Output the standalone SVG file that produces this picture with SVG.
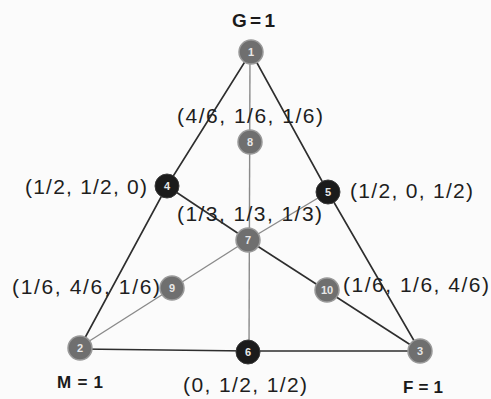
<svg xmlns="http://www.w3.org/2000/svg" width="491" height="399" viewBox="0 0 491 399">
<style>
.lbl{font-family:"Liberation Sans",Arial,sans-serif;font-size:21px;fill:#1e1e1e}
.vtx{font-family:"Liberation Sans",Arial,sans-serif;font-weight:bold;fill:#1a1a1a}
.num{font-family:"Liberation Sans",Arial,sans-serif;font-size:11px;fill:#e8e8e8;text-anchor:middle;font-weight:bold}
.g{fill:#6f6f6f;stroke:#9a9a9a;stroke-width:1.5}
.d{fill:#1b1b1b;stroke:#3a3a3a;stroke-width:1}
.dk{stroke:#2e2e2e;stroke-width:1.6;fill:none}
.gr{stroke:#8a8a8a;stroke-width:1.4;fill:none}
</style>
<rect width="491" height="399" fill="#fbfbfb"/>
<g id="connectors">
<polyline class="dk" points="251,52 167,186 80,347"/>
<polyline class="dk" points="251,52 328,192 420,351"/>
<polyline class="dk" points="80,349 248,351 420,351"/>
<line class="gr" x1="250" y1="52" x2="249" y2="351"/>
<line class="dk" x1="167" y1="186" x2="248" y2="240"/>
<line class="dk" x1="248" y1="240" x2="420" y2="351"/>
<line class="gr" x1="328" y1="192" x2="248" y2="240"/>
<line class="gr" x1="248" y1="240" x2="80" y2="347"/>
</g>
<g id="n1"><circle class="g" cx="251" cy="52" r="12"/><text class="num" x="251" y="56">1</text></g>
<g id="n2"><circle class="g" cx="80" cy="348" r="12"/><text class="num" x="80" y="352">2</text></g>
<g id="n3"><circle class="g" cx="420" cy="351" r="12"/><text class="num" x="420" y="355">3</text></g>
<g id="n4"><circle class="d" cx="167" cy="186" r="12"/><text class="num" x="167" y="190">4</text></g>
<g id="n5"><circle class="d" cx="328" cy="192" r="12"/><text class="num" x="328" y="196">5</text></g>
<g id="n6"><circle class="d" cx="248" cy="352" r="12"/><text class="num" x="248" y="356">6</text></g>
<g id="n7"><circle class="g" cx="248" cy="240" r="12"/><text class="num" x="248" y="244">7</text></g>
<g id="n8"><circle class="g" cx="250" cy="142" r="12"/><text class="num" x="250" y="146">8</text></g>
<g id="n9"><circle class="g" cx="172" cy="288" r="12"/><text class="num" x="172" y="292">9</text></g>
<g id="n10"><circle class="g" cx="327" cy="290" r="12"/><text class="num" x="327" y="294">10</text></g>
<g id="labels">
<text class="vtx" x="232" y="27" font-size="19" textLength="43">G=1</text>
<text class="vtx" x="57" y="388" font-size="17" textLength="46">M=1</text>
<text class="vtx" x="403" y="393" font-size="17" textLength="40">F=1</text>
<text class="lbl" x="177" y="123" textLength="146">(4/6, 1/6, 1/6)</text>
<text class="lbl" x="25" y="194" textLength="122">(1/2, 1/2, 0)</text>
<text class="lbl" x="350" y="198" textLength="123">(1/2, 0, 1/2)</text>
<text class="lbl" x="177" y="221" textLength="145">(1/3, 1/3, 1/3)</text>
<text class="lbl" x="12" y="294" textLength="148">(1/6, 4/6, 1/6)</text>
<text class="lbl" x="343" y="292" textLength="146">(1/6, 1/6, 4/6)</text>
<text class="lbl" x="183" y="392" textLength="124">(0, 1/2, 1/2)</text>
</g>
</svg>
